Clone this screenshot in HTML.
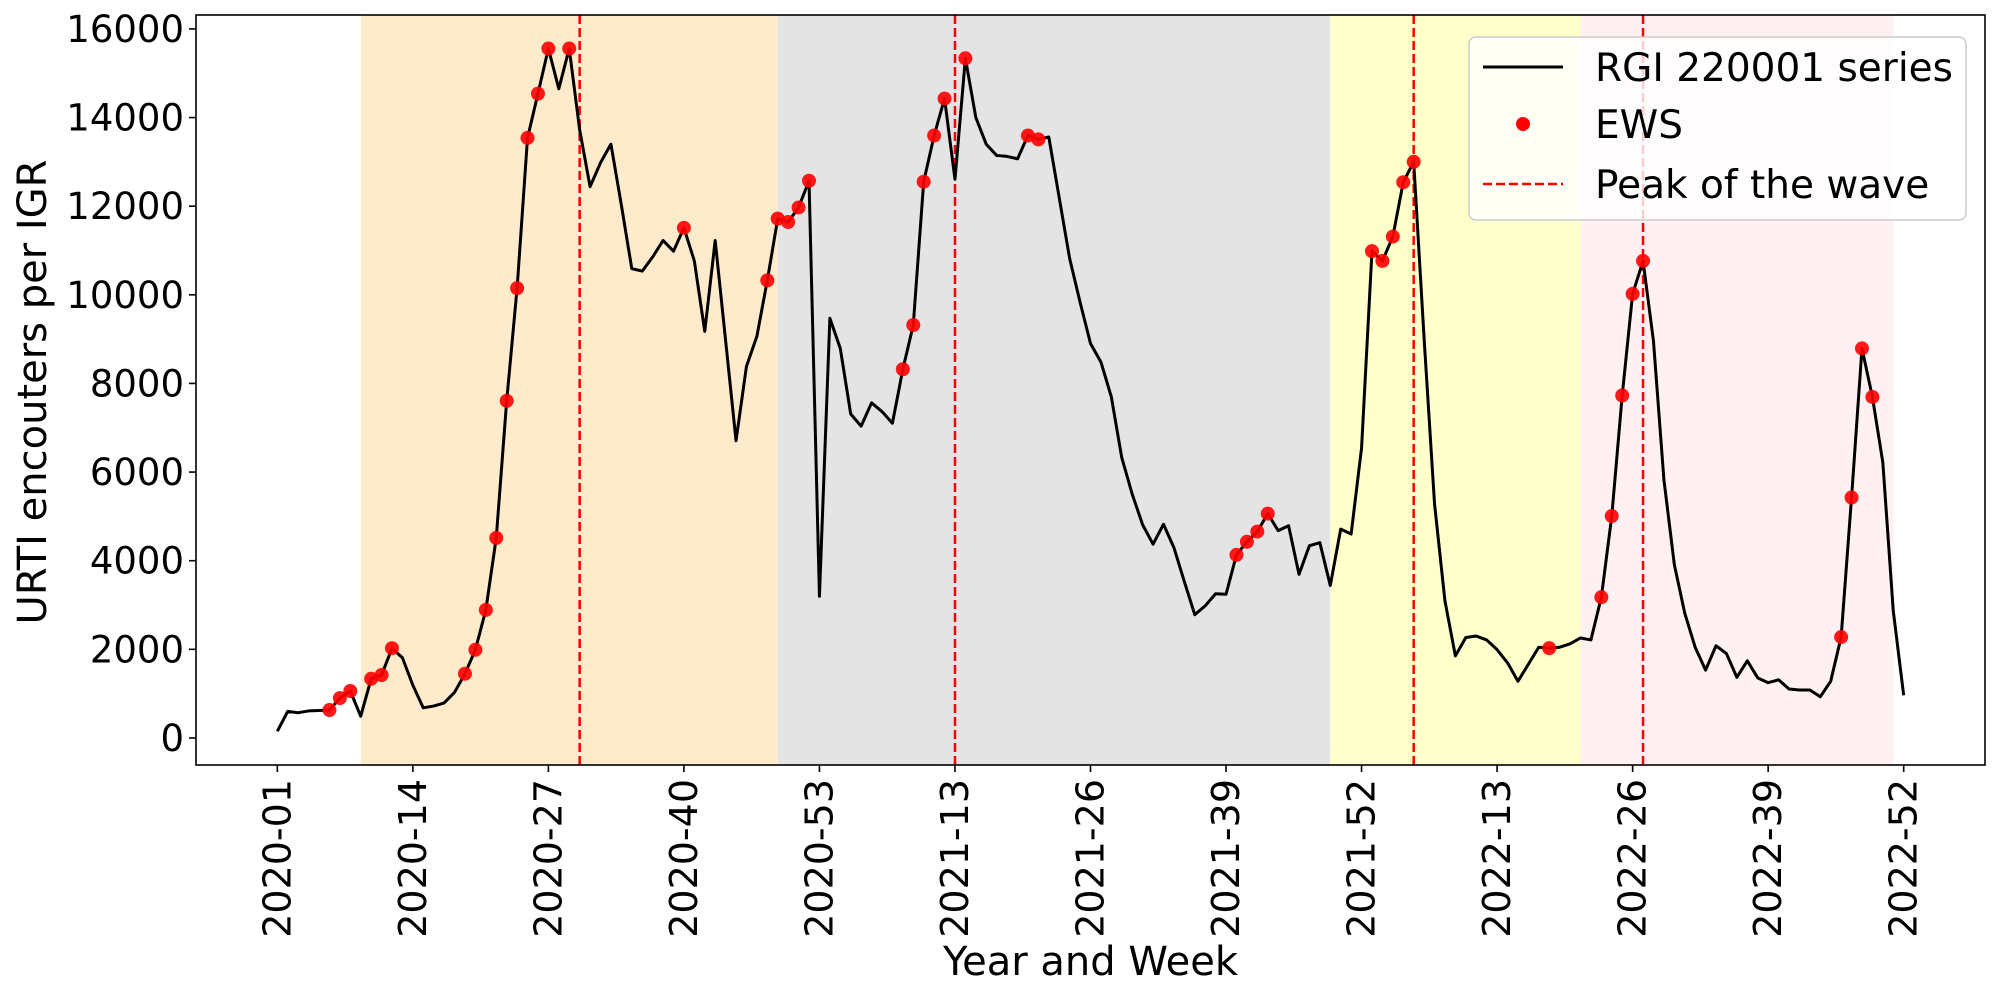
<!DOCTYPE html>
<html><head><meta charset="utf-8"><style>
html,body{margin:0;padding:0;background:#fff}
svg{display:block;font-family:"DejaVu Sans","Liberation Sans",sans-serif}
</style></head><body>
<svg id="chart" width="2000" height="1000" viewBox="0 0 2000 1000" xmlns="http://www.w3.org/2000/svg">
<g id="bands"></g>
<g id="peaks"></g>
<g id="series"></g>
<g id="axes"></g>
<g id="legend">
  <rect x="1469" y="37" width="497" height="183" rx="7" fill="#fff" fill-opacity="0.8" stroke="#cccccc" stroke-width="1.5"/>
  <line x1="1483" y1="67" x2="1563" y2="67" stroke="#000" stroke-width="3"/>
  <text x="1595" y="81" font-size="39">RGI 220001 series</text>
  <circle cx="1523" cy="124" r="7" fill="#ff0000"/>
  <text x="1595" y="138" font-size="39">EWS</text>
  <line x1="1483" y1="184" x2="1563" y2="184" stroke="#ff0000" stroke-width="2.5" stroke-dasharray="9,4"/>
  <text x="1595" y="198" font-size="39">Peak of the wave</text>
</g>
</svg>
<script>
const values = [150,600,570,610,620,630,900,1060,490,1335,1420,2025,1810,1190,680,720,790,1030,1450,1990,2890,4515,7607,10150,13540,14540,15557,14650,15557,13725,12440,12980,13400,12026,10590,10535,10853,11226,10984,11511,10765,9175,11226,8967,6708,8386,9065,10326,11719,11642,11971,12574,3199,9471,8791,7311,7037,7563,7366,7103,8320,9318,12552,13594,14428,12607,15337,14000,13397,13145,13123,13068,13594,13507,13561,12191,10820,9833,8901,8484,7695,6324,5502,4811,4373,4822,4296,3528,2782,2980,3254,3243,4131,4427,4657,5063,4679,4789,3693,4340,4406,3440,4712,4602,6543,10985,10765,11314,12541,13002,9011,5283,3090,1851,2267,2300,2212,1993,1697,1280,1664,2048,2026,2048,2125,2256,2212,3177,5008,7728,10020,10765,8956,5831,3912,2816,2048,1532,2081,1905,1368,1741,1357,1247,1313,1105,1083,1083,930,1280,2278,5425,8791,7695,6215,2870,963];
const ewsIdx = [5,6,7,9,10,11,18,19,20,21,22,23,24,25,26,28,39,47,48,49,50,51,60,61,62,63,64,66,72,73,92,93,94,95,105,106,107,108,109,122,127,128,129,130,131,150,151,152,153];
const peakIdx = [29,65,109,131];
const bandStart = [8,48,101,125];
const bandEnd = [48,101,125,155];
const bandColors = ["#feebcb","#e4e4e4","#ffffcc","#fff0f2"];
const xTickIdx = [0,13,26,39,52,65,78,91,104,117,130,143,156];
const xTickLabels = ["2020-01","2020-14","2020-27","2020-40","2020-53","2021-13","2021-26","2021-39","2021-52","2022-13","2022-26","2022-39","2022-52"];
const yTicks = [0,2000,4000,6000,8000,10000,12000,14000,16000];

const L=196,R=1985,T=15,B=765;
const xMin=-7.8,xMax=163.8,yMin=-610,yMax=16314;
const X=i=>L+(i-xMin)/(xMax-xMin)*(R-L);
const Y=v=>B-(v-yMin)/(yMax-yMin)*(B-T);
const NS="http://www.w3.org/2000/svg";
function mk(tag,attrs,parent){const e=document.createElementNS(NS,tag);for(const k in attrs)e.setAttribute(k,attrs[k]);document.getElementById(parent).appendChild(e);return e;}

bandStart.forEach((s,k)=>{
  const r=mk("rect",{x:X(s),y:T,width:X(bandEnd[k])-X(s),height:B-T,fill:bandColors[k]},"bands");
  
  
});
peakIdx.forEach(p=>{
  const l=mk("line",{x1:X(p),y1:T,x2:X(p),y2:B,stroke:"#ff0000","stroke-width":2.5,"stroke-dasharray":"9,4"},"peaks");
  
  
});
const pl=mk("polyline",{points:values.map((v,i)=>X(i)+","+Y(v)).join(" "),fill:"none",stroke:"#000","stroke-width":3,"stroke-linejoin":"round"},"series");


ewsIdx.forEach(i=>{
  const c=mk("circle",{cx:X(i),cy:Y(values[i]),r:7,fill:"#ff0000","fill-opacity":0.9},"series");
  
  
});
const fr=mk("rect",{x:L,y:T,width:R-L,height:B-T,fill:"none",stroke:"#000","stroke-width":1.6},"axes");


yTicks.forEach(v=>{
  const tk=mk("line",{x1:L-7,y1:Y(v),x2:L,y2:Y(v),stroke:"#000","stroke-width":1.6},"axes");
  
  
  const t=mk("text",{x:L-12,y:Y(v)+13,"text-anchor":"end","font-size":37},"axes");
  t.textContent=String(v);
  
  
});
xTickIdx.forEach((i,k)=>{
  const tk=mk("line",{x1:X(i),y1:B,x2:X(i),y2:B+7,stroke:"#000","stroke-width":1.6},"axes");
  
  
  const t=mk("text",{x:0,y:0,"text-anchor":"end","font-size":38,transform:`translate(${X(i)+13},${B+14}) rotate(-90)`},"axes");
  t.textContent=xTickLabels[k];
  
  
});
const xl=mk("text",{x:(L+R)/2,y:975,"text-anchor":"middle","font-size":40},"axes");
xl.textContent="Year and Week";


const yl=mk("text",{x:0,y:0,"text-anchor":"middle","font-size":40,transform:"translate(46,392) rotate(-90)"},"axes");
yl.textContent="URTI encouters per IGR";


</script>
</body></html>
